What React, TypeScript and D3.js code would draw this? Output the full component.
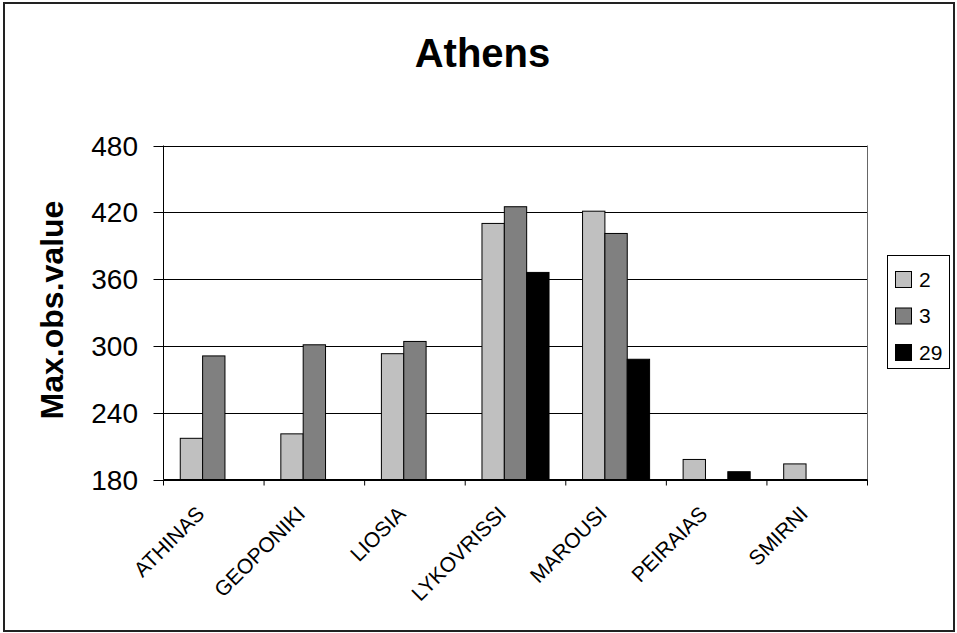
import * as d3 from "d3";

const categories = ["ATHINAS", "GEOPONIKI", "LIOSIA", "LYKOVRISSI", "MAROUSI", "PEIRAIAS", "SMIRNI"];
const seriesNames = ["2", "3", "29"];
const values2 = [217, 221, 293, 410, 421, 198, 194];
const values3 = [291, 301, 304, 425, 401, null, null];
const values29 = [null, null, null, 366, 288, 187, null];
const yTicks = [180, 240, 300, 360, 420, 480];
const colors = ["#c0c0c0", "#808080", "#000000"];

const W = 957;
const H = 633;
const plot = { left: 163.5, right: 867.5, top: 145.5, bottom: 479.5 };
const font = "Arial, 'Liberation Sans', Helvetica, sans-serif";

const App = () => {
  const series = [values2, values3, values29];

  const x = d3.scaleBand<string>().domain(categories).range([plot.left, plot.right]);
  const y = d3.scaleLinear().domain([180, 480]).range([plot.bottom, plot.top]);
  const barW = x.bandwidth() / 4.5;

  const bars: { key: string; x: number; y: number; h: number; fill: string }[] = [];
  series.forEach((vals, si) => {
    vals.forEach((v, ci) => {
      if (v == null) return;
      const bx = (x(categories[ci]) as number) + 0.75 * barW + si * barW;
      bars.push({ key: `${si}-${ci}`, x: bx, y: y(v), h: y(180) - y(v), fill: colors[si] });
    });
  });

  const legendTop = 255;
  const legendStep = 36.5;

  return (
    <svg width={W} height={H} style={{ position: "absolute", left: 0, top: 0, background: "#fff" }}>
      <rect x={0} y={0} width={W} height={H} fill="#fff" />
      <rect x={4} y={3} width={950} height={628} fill="none" stroke="#222" strokeWidth={2} />

      <text x={482.5} y={67} textAnchor="middle" fontFamily={font} fontWeight="bold" fontSize={40}>
        Athens
      </text>

      {/* gridlines */}
      {yTicks.map((t) => (
        <line key={t} x1={plot.left} x2={plot.right} y1={Math.round(y(t)) + 0.5} y2={Math.round(y(t)) + 0.5} stroke="#000" strokeWidth={1} />
      ))}
      <line x1={plot.right} x2={plot.right} y1={plot.top} y2={plot.bottom} stroke="#666" />

      {/* bars */}
      {bars.map((b) => (
        <rect key={b.key} x={b.x} y={b.y} width={barW} height={b.h} fill={b.fill} stroke="#000" strokeWidth={1} />
      ))}

      {/* y axis */}
      <line x1={plot.left} x2={plot.left} y1={plot.top} y2={plot.bottom} stroke="#000" />
      {yTicks.map((t) => (
        <g key={t}>
          <line x1={plot.left - 10} x2={plot.left} y1={Math.round(y(t)) + 0.5} y2={Math.round(y(t)) + 0.5} stroke="#000" />
          <text x={138} y={y(t)} dy="0.36em" textAnchor="end" fontFamily={font} fontSize={28}>
            {t}
          </text>
        </g>
      ))}
      <text transform="translate(63,310) rotate(-90)" textAnchor="middle" fontFamily={font} fontWeight="bold" fontSize={32}>
        Max.obs.value
      </text>

      {/* x axis */}
      <line x1={plot.left} x2={plot.right} y1={plot.bottom} y2={plot.bottom} stroke="#000" />
      {categories.concat(["__end"]).map((c, i) => {
        const tx = i < categories.length ? (x(c) as number) : plot.right;
        return <line key={c} x1={tx} x2={tx} y1={plot.bottom} y2={plot.bottom + 6} stroke="#000" />;
      })}
      {categories.map((c) => {
        const cx = (x(c) as number) + x.bandwidth() / 2;
        return (
          <text key={c} transform={`translate(${cx - 8},515) rotate(-45)`} textAnchor="end" fontFamily={font} fontSize={21}>
            {c}
          </text>
        );
      })}

      {/* legend */}
      <rect x={887.5} y={legendTop + 0.5} width={62} height={113} fill="#fff" stroke="#000" />
      {seriesNames.map((s, i) => {
        const cy = legendTop + 24 + i * legendStep;
        return (
          <g key={s}>
            <rect x={895.5} y={cy - 7.5} width={16} height={16} fill={colors[i]} stroke="#000" />
            <text x={919} y={cy} dy="0.36em" fontFamily={font} fontSize={21}>
              {s}
            </text>
          </g>
        );
      })}
    </svg>
  );
};

export default App;
